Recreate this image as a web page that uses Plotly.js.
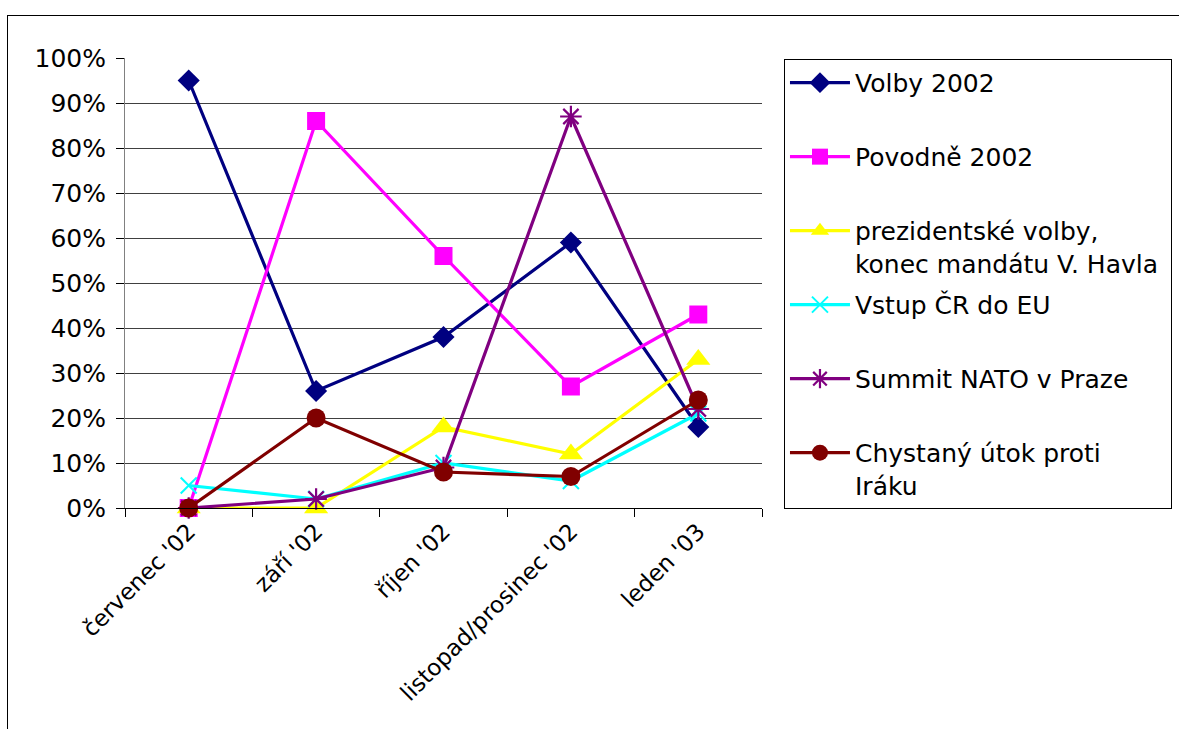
<!DOCTYPE html>
<html>
<head>
<meta charset="utf-8">
<script src="https://cdn.plot.ly/plotly-3.0.1.min.js"></script>
<style>
html, body { margin: 0; padding: 0; overflow: hidden; background: #fff; width: 1179px; height: 729px; }
#frame { position: absolute; left: 7px; top: 15px; width: 1400px; height: 900px; border: 1px solid #000; box-sizing: border-box; }
#chart { position: absolute; left: 0; top: 0; width: 1200px; height: 729px; }
</style>
</head>
<body>
<div id="frame"></div>
<div id="chart"></div>
<script>
// categories
const categories = ["červenec '02", "září '02", "říjen '02", "listopad/prosinec '02", "leden '03"];

// series names
const seriesNames = [
  "Volby 2002",
  "Povodně 2002",
  "prezidentské volby,<br>konec mandátu V. Havla",
  "Vstup ČR do EU",
  "Summit NATO v Praze",
  "Chystaný útok proti<br>Iráku"
];

// series values (share, 0..1)
const volby2002 = [0.95, 0.26, 0.38, 0.59, 0.18];
const povodne2002 = [0.00, 0.86, 0.56, 0.27, 0.43];
const prezidentskeVolby = [0.00, 0.00, 0.18, 0.12, 0.33];
const vstupEU = [0.05, 0.02, 0.10, 0.06, 0.21];
const summitNATO = [0.00, 0.02, 0.09, 0.87, 0.22];
const utokIrak = [0.00, 0.20, 0.08, 0.07, 0.24];

// y tick values
const yTicks = [0, 0.1, 0.2, 0.3, 0.4, 0.5, 0.6, 0.7, 0.8, 0.9, 1.0];

const values = [volby2002, povodne2002, prezidentskeVolby, vstupEU, summitNATO, utokIrak];
const styles = [
  {color: '#000080', symbol: 'diamond', size: 17, lw: 0},
  {color: '#FF00FF', symbol: 'square', size: 18, lw: 0},
  {color: '#FFFF00', symbol: 'triangle-up', size: 21, lw: 0},
  {color: '#00FFFF', symbol: 'x-thin-open', size: 16, lw: 2},
  {color: '#800080', symbol: 'asterisk-open', size: 18, lw: 2.2},
  {color: '#800000', symbol: 'circle', size: 19, lw: 0}
];

// pad single-line names to two lines so all legend slots are equal
function legendName(n) { return n.indexOf('<br>') >= 0 ? n : n + '<br>\u00a0'; }

const traces = values.map((v, i) => ({
  type: 'scatter',
  mode: 'lines+markers',
  x: categories,
  y: v,
  name: legendName(seriesNames[i]) + (i === 2 ? '\u00a0' : ''),
  legendgroup: 'g' + i,
  cliponaxis: false,
  line: {color: styles[i].color, width: 3.2},
  marker: {
    color: styles[i].color,
    symbol: styles[i].symbol,
    size: styles[i].size,
    line: {color: styles[i].color, width: styles[i].lw}
  }
}));

const font = "DejaVu Sans, Verdana, sans-serif";

const layout = {
  width: 1200,
  height: 729,
  paper_bgcolor: 'rgba(0,0,0,0)',
  plot_bgcolor: 'rgba(0,0,0,0)',
  margin: {l: 125, r: 438, t: 58, b: 221},
  font: {family: font, size: 24, color: '#000'},
  showlegend: true,
  legend: {
    x: 1.0345, xanchor: 'left',
    y: 0.998, yanchor: 'top',
    bordercolor: '#000', borderwidth: 1,
    bgcolor: '#fff',
    font: {family: font, size: 25, color: '#000'},
    itemwidth: 60,
    valign: 'top',
    tracegroupgap: 6,
    traceorder: 'grouped'
  },
  xaxis: {
    type: 'category',
    range: [-0.5, 4.5],
    tickangle: -45,
    tickfont: {family: font, size: 23, color: '#000'},
    ticks: 'outside',
    tickson: 'boundaries',
    ticklen: 8,
    tickcolor: '#000',
    showline: true,
    linecolor: '#000',
    linewidth: 1,
    showgrid: false,
    zeroline: false,
    fixedrange: true
  },
  yaxis: {
    range: [0, 1],
    tickvals: yTicks,
    tickformat: '.0%',
    tickfont: {family: font, size: 25, color: '#000'},
    ticks: 'outside',
    ticklen: 8,
    tickcolor: '#000',
    ticklabelstandoff: 5,
    showline: true,
    linecolor: '#808080',
    linewidth: 1,
    showgrid: true,
    gridcolor: '#404040',
    gridwidth: 1,
    zeroline: false,
    fixedrange: true
  }
};

Plotly.newPlot('chart', traces, layout, {displayModeBar: false, staticPlot: true});
</script>
</body>
</html>
